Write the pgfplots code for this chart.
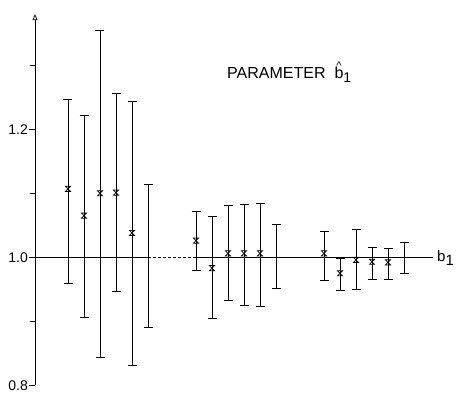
\documentclass[border=0pt]{standalone}
\usepackage{pgfplots}
\pgfplotsset{compat=1.18}
\usepackage{pgfplotstable}
\usepackage{fontspec}
\setmainfont{Liberation Sans}
\usetikzlibrary{arrows.meta}

% hourglass-shaped cross used for the estimates
\pgfdeclareplotmark{hourglass}{%
  \pgfpathmoveto{\pgfqpoint{-\pgfplotmarksize}{\pgfplotmarksize}}%
  \pgfpathlineto{\pgfqpoint{\pgfplotmarksize}{\pgfplotmarksize}}%
  \pgfpathlineto{\pgfqpoint{-\pgfplotmarksize}{-\pgfplotmarksize}}%
  \pgfpathlineto{\pgfqpoint{\pgfplotmarksize}{-\pgfplotmarksize}}%
  \pgfpathclose
  \pgfusepathqstroke}

% b with a hat above it
\newcommand{\bhat}{\ooalign{b\cr\hidewidth\raisebox{0.62em}{\fontsize{11}{11}\selectfont\^{}}\hidewidth\cr}}

% estimate, upper and lower half-widths of the intervals
\pgfplotstableread{
x  y     ep    em
1  1.107 0.140 0.148
2  1.065 0.156 0.159
3  1.100 0.254 0.257
4  1.101 0.155 0.155
5  1.038 0.206 0.207
9  1.026 0.045 0.047
10 0.983 0.080 0.078
11 1.006 0.075 0.074
12 1.006 0.077 0.082
13 1.006 0.078 0.083
17 1.006 0.034 0.042
18 0.975 0.023 0.027
19 0.996 0.047 0.047
20 0.993 0.023 0.027
21 0.992 0.022 0.026
}\withmark

% intervals drawn without an estimate
\pgfplotstableread{
x  y     ep    em
6  1.000 0.114 0.110
14 1.000 0.052 0.048
22 1.000 0.023 0.025
}\nomark

\begin{document}
\begin{tikzpicture}
\begin{axis}[
  x=16pt, y=640pt,
  xmin=-1.0625, xmax=23.8, ymin=0.8, ymax=1.38,
  axis x line=none,
  axis y line=left,
  y axis line style={-{Triangle[open,length=6pt,width=5pt]}, line width=0.7pt},
  ytick={0.8,1.0,1.2}, minor ytick={0.9,1.1,1.3},
  yticklabels={0.8,1.0,1.2},
  tick align=outside, major tick length=6pt, minor tick length=5pt,
  tick style={black, line width=0.7pt},
  yticklabel style={font=\fontsize{14}{14}\selectfont, inner sep=1pt},
  clip=false,
]
  \coordinate (bbsw) at (axis cs:-3.25,0.777);
  \coordinate (bbne) at (axis cs:25.25,1.402);

  % reference line at the true value
  \addplot[black, line width=0.7pt] coordinates {(-1.0625,1) (6,1)};
  \addplot[black, line width=0.6pt, densely dashed] coordinates {(6,1) (9,1)};
  \addplot[black, line width=0.7pt] coordinates {(9,1) (23.8,1)};

  \addplot[black, only marks, mark=hourglass, mark size=2.6pt,
    mark options={line width=0.7pt},
    error bars/.cd, y dir=both, y explicit,
    error bar style={line width=0.8pt},
    error mark options={rotate=90, mark size=4.5pt, line width=1pt}]
    table[x=x, y=y, y error plus=ep, y error minus=em]{\withmark};

  \addplot[draw=none, mark=none,
    error bars/.cd, y dir=both, y explicit,
    error bar style={line width=0.8pt, draw=black, solid},
    error mark options={rotate=90, mark size=4.5pt, line width=1pt, draw=black}]
    table[x=x, y=y, y error plus=ep, y error minus=em]{\nomark};

  \node[anchor=base west, inner sep=0pt, font=\fontsize{16}{16}\selectfont]
    at (axis cs:10.94,1.2786)
    {PARAMETER\ \ \bhat\raisebox{-0.4ex}{\fontsize{14}{14}\selectfont 1}};
  \node[anchor=base west, inner sep=0pt, font=\fontsize{15}{15}\selectfont]
    at (axis cs:24.06,0.9927) {b\raisebox{-0.45ex}{1}};
\end{axis}
\pgfresetboundingbox
\path[use as bounding box] (bbsw) rectangle (bbne);
\end{tikzpicture}
\end{document}
